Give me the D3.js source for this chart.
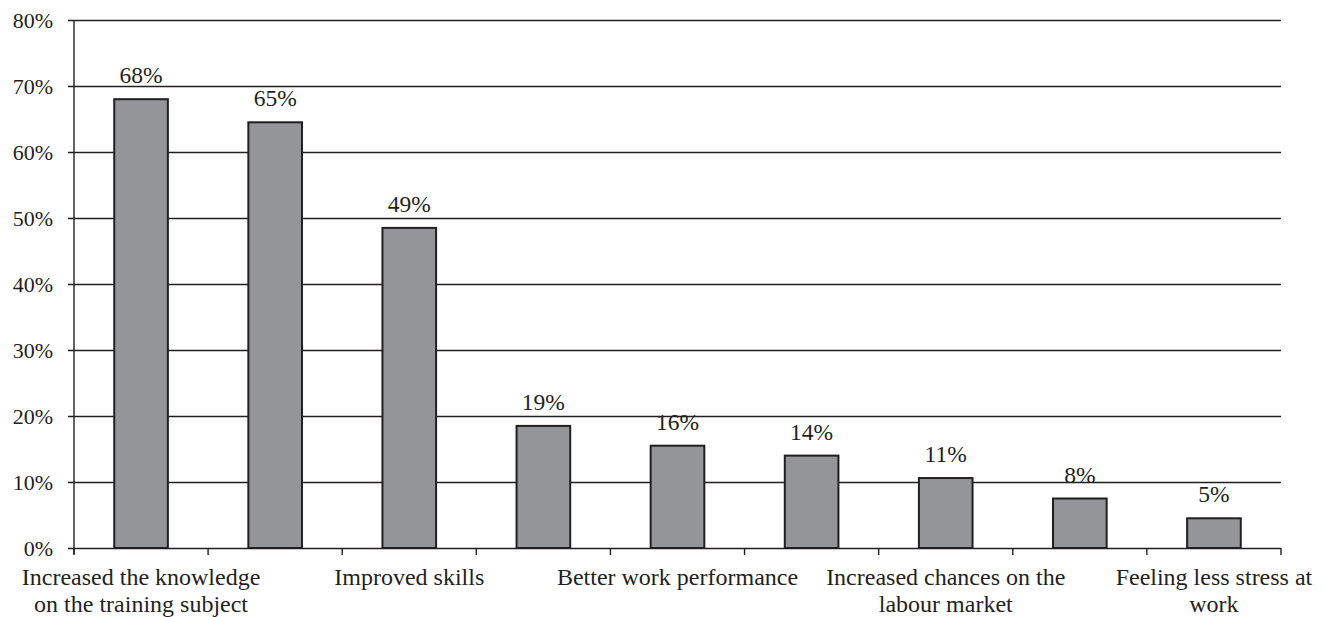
<!DOCTYPE html>
<html>
<head>
<meta charset="utf-8">
<script src="https://cdn.jsdelivr.net/npm/d3@7"></script>
<style>
  body { margin: 0; background: #fff; }
  text { font-family: "Liberation Serif", "Times New Roman", serif; fill: #231f20; }
</style>
</head>
<body>
<svg id="chart" width="1326" height="617"></svg>
<script>
// Only every other category is labelled in the source chart
var categories = [
    "Increased the knowledge\non the training subject",
    "",
    "Improved skills",
    "",
    "Better work performance",
    "",
    "Increased chances on the\nlabour market",
    "",
    "Feeling less stress at\nwork"
];
var values = [68, 64.5, 48.5, 18.5, 15.5, 14, 10.6, 7.5, 4.5];
var yTicks = [0, 10, 20, 30, 40, 50, 60, 70, 80];

var WIDTH = 1326, HEIGHT = 617;
var MARGINS = {top: 20, right: 45, bottom: 69, left: 74};
var ink = "#231f20";

var svg = d3.select("#chart");

var x = d3.scaleBand()
    .domain(d3.range(categories.length))
    .range([MARGINS.left, WIDTH - MARGINS.right])
    .paddingInner(0.6)
    .paddingOuter(0.3);
var step = x.step();

var y = d3.scaleLinear()
    .domain([0, 80])
    .range([HEIGHT - MARGINS.bottom, MARGINS.top]);

// gridlines + y axis
var yAxis = d3.axisLeft(y)
    .tickValues(yTicks)
    .tickSize(-(WIDTH - MARGINS.right - MARGINS.left))
    .tickFormat(function(d) { return d + "%"; });

var gy = svg.append("g")
    .attr("transform", "translate(" + MARGINS.left + ",0)")
    .call(yAxis);
gy.select(".domain").remove();
gy.selectAll(".tick line")
    .attr("x1", -6)
    .attr("stroke", ink)
    .attr("stroke-width", 1.4);
gy.selectAll(".tick text")
    .attr("x", -21)
    .attr("dy", "0.32em")
    .style("font-size", "22px");

// vertical axis line
svg.append("line")
    .attr("x1", MARGINS.left).attr("x2", MARGINS.left)
    .attr("y1", y(80)).attr("y2", y(0) + 6)
    .attr("stroke", ink)
    .attr("stroke-width", 1.4);

// category boundary ticks on the x axis
var bounds = d3.range(categories.length + 1).map(function(i) { return MARGINS.left + i * step; });
svg.append("g").selectAll("line")
    .data(bounds)
    .join("line")
    .attr("x1", function(d) { return d; })
    .attr("x2", function(d) { return d; })
    .attr("y1", y(0))
    .attr("y2", y(0) + 7)
    .attr("stroke", ink)
    .attr("stroke-width", 1.4);

// bars
svg.append("g").selectAll("rect")
    .data(values)
    .join("rect")
    .attr("x", function(d, i) { return x(i); })
    .attr("y", function(d) { return y(d); })
    .attr("width", x.bandwidth())
    .attr("height", function(d) { return y(0) - y(d); })
    .attr("fill", "#939598")
    .attr("stroke", ink)
    .attr("stroke-width", 2);

// value labels
svg.append("g").selectAll("text")
    .data(values)
    .join("text")
    .attr("x", function(d, i) { return x(i) + x.bandwidth() / 2; })
    .attr("y", function(d) { return y(d) - 16; })
    .attr("text-anchor", "middle")
    .style("font-size", "23.5px")
    .text(function(d) { return Math.round(d) + "%"; });

// category labels
var labels = svg.append("g").selectAll("text")
    .data(categories)
    .join("text")
    .attr("text-anchor", "middle")
    .style("font-size", "24px")
    .attr("transform", function(d, i) {
        return "translate(" + (x(i) + x.bandwidth() / 2) + "," + (y(0) + 37) + ")";
    });
labels.each(function(d) {
    var t = d3.select(this);
    d.split("\n").forEach(function(line, k) {
        if (!line) return;
        t.append("tspan").attr("x", 0).attr("y", k * 27).text(line);
    });
});
</script>
</body>
</html>
